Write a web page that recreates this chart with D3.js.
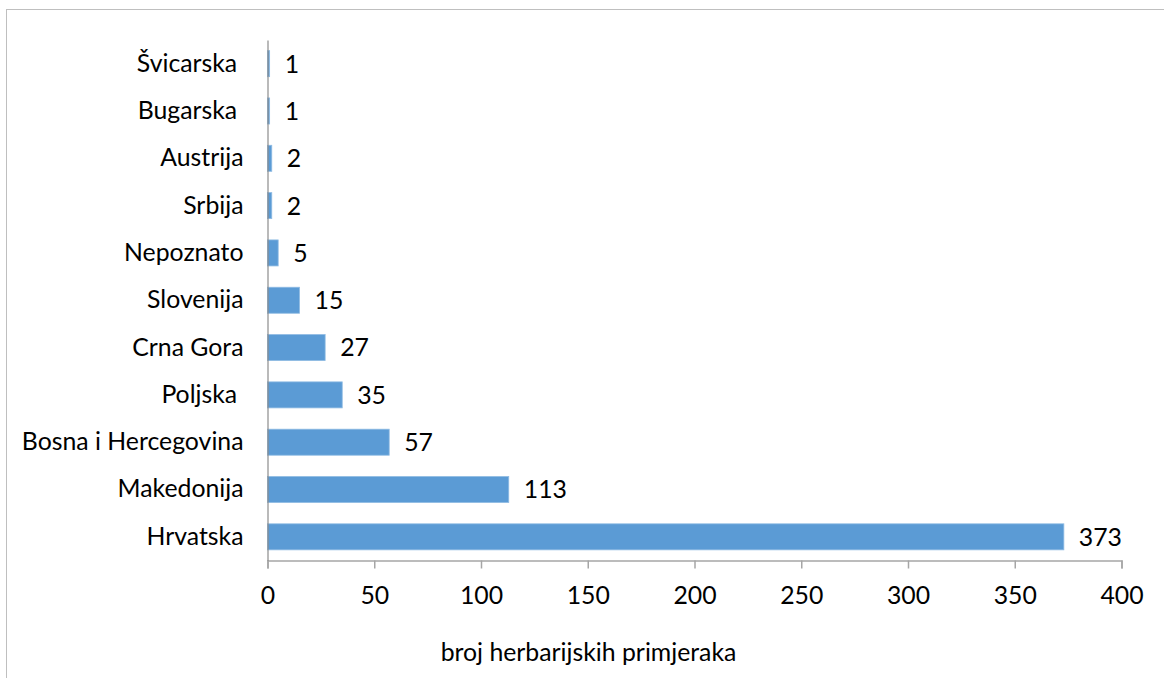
<!DOCTYPE html>
<html>
<head>
<meta charset="utf-8">
<script src="https://cdn.jsdelivr.net/npm/d3@7"></script>
<style>
  html, body { margin: 0; padding: 0; background: #fff; }
  text { font-family: Lato, "Open Sans", sans-serif; fill: #000; }
</style>
</head>
<body>
<svg id="chart" width="1164" height="678"></svg>
<script>
const categories = ["Švicarska ", "Bugarska ", "Austrija", "Srbija", "Nepoznato", "Slovenija", "Crna Gora", "Poljska ", "Bosna i Hercegovina", "Makedonija", "Hrvatska"];
const values = [1, 1, 2, 2, 5, 15, 27, 35, 57, 113, 373];
const xTicks = [0, 50, 100, 150, 200, 250, 300, 350, 400];
const xTitle = "broj herbarijskih primjeraka";

const svg = d3.select("#chart");
const fontSize = 24.8;

// outer chart border
svg.append("rect")
  .attr("x", 6.5).attr("y", 9.5)
  .attr("width", 1170).attr("height", 680)
  .attr("fill", "none").attr("stroke", "#bfbfbf").attr("stroke-width", 1);

const pLeft = 267.5, pRight = 1121.5, pTop = 40, pBottom = 560.5;

const x = d3.scaleLinear().domain([0, 400]).range([pLeft, pRight]);
const y = d3.scaleBand().domain(categories).range([pTop, pBottom]).paddingInner(0.45).paddingOuter(0.225);

const data = categories.map((c, i) => ({ c, v: values[i] }));

// bars
svg.append("g").selectAll("rect").data(data).join("rect")
  .attr("x", x(0))
  .attr("y", d => y(d.c))
  .attr("width", d => x(d.v) - x(0))
  .attr("height", y.bandwidth())
  .attr("fill", "#5b9bd5")
  .attr("stroke", "#8fbbe3")
  .attr("stroke-width", 0.8);

// x axis
const xAxis = svg.append("g")
  .attr("transform", `translate(0,${pBottom})`)
  .call(d3.axisBottom(x).tickValues(xTicks).tickSize(8).tickPadding(9).tickFormat(d3.format("d")));
xAxis.select(".domain").attr("stroke", "#a6a6a6").attr("stroke-width", 1.5);
xAxis.selectAll(".tick line").attr("stroke", "#a6a6a6").attr("stroke-width", 1.5);
xAxis.selectAll(".tick text").attr("font-size", fontSize).attr("font-family", "Lato, sans-serif").attr("fill", "#000").attr("dy", "1.05em");

// y axis
const yAxis = svg.append("g")
  .attr("transform", `translate(${pLeft},0)`)
  .call(d3.axisLeft(y).tickSize(0).tickPadding(24));
yAxis.select(".domain").attr("stroke", "#8c8c8c").attr("stroke-width", 1.2);
yAxis.selectAll(".tick text")
  .attr("font-size", fontSize).attr("font-family", "Lato, sans-serif").attr("fill", "#000")
  .style("white-space", "pre");

// value labels
svg.append("g").selectAll("text").data(data).join("text")
  .attr("x", d => x(d.v) + 15)
  .attr("y", d => y(d.c) + y.bandwidth() / 2)
  .attr("dy", "0.36em")
  .attr("font-size", fontSize)
  .text(d => d.v);

// axis title
svg.append("text")
  .attr("x", (pLeft + pRight) / 2 - 106)
  .attr("y", 661)
  .attr("text-anchor", "middle")
  .attr("font-size", fontSize)
  .text(xTitle);
</script>
</body>
</html>
